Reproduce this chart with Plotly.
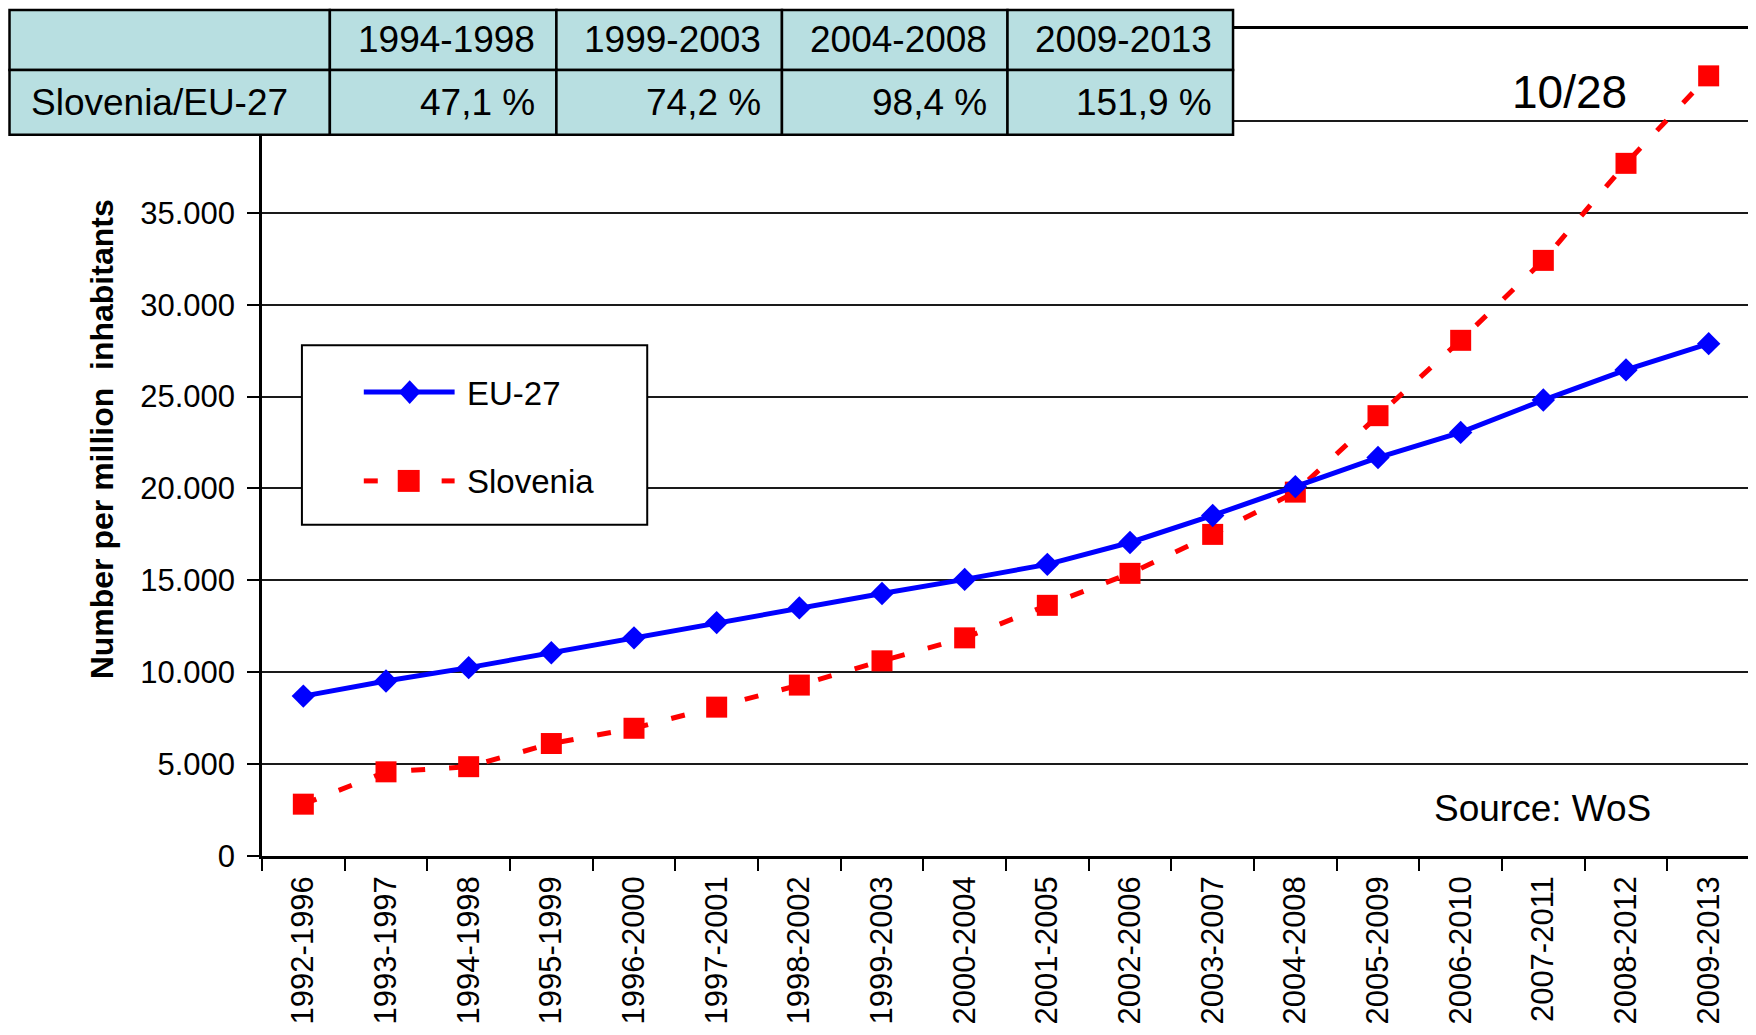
import plotly.graph_objects as go

# data
periods = [
    "1992-1996", "1993-1997", "1994-1998", "1995-1999", "1996-2000", "1997-2001",
    "1998-2002", "1999-2003", "2000-2004", "2001-2005", "2002-2006", "2003-2007",
    "2004-2008", "2005-2009", "2006-2010", "2007-2011", "2008-2012", "2009-2013",
]
eu27 = [8700, 9520, 10250, 11060, 11870, 12700, 13500, 14280, 15050, 15870,
        17060, 18530, 20100, 21680, 23050, 24810, 26450, 27880]
slovenia = [2820, 4580, 4860, 6120, 6950, 8100, 9300, 10620, 11870, 13640,
            15380, 17500, 19800, 23960, 28060, 32410, 37690, 42450]

y_tick_vals = [0, 5000, 10000, 15000, 20000, 25000, 30000, 35000, 40000]
y_tick_text = ["0", "5.000", "10.000", "15.000", "20.000", "25.000", "30.000", "35.000", ""]

table_header = ["", "1994-1998", "1999-2003", "2004-2008", "2009-2013"]
table_row = ["Slovenia/EU-27", "47,1 %", "74,2 %", "98,4 %", "151,9 %"]

FONT = "Liberation Sans, Arial, sans-serif"
# the page body adds an 8px margin, so the figure is drawn 8px in from the corner;
# keep the page no taller than the window so no scrollbar appears
OFF = 8
W, H = 1756 - OFF, 1035 - 2 * OFF
# plot area in window pixels
L, R, T, B = 262, 1753, 29, 858


def px(x):
    return (x - L) / (R - L)


def py(y):
    return (B - y) / (B - T)


fig = go.Figure()
fig.add_trace(go.Scatter(
    x=periods, y=slovenia, name="Slovenia", mode="lines+markers",
    line=dict(color="#FF0000", width=5, dash="14px,24px"),
    marker=dict(symbol="square", size=21, color="#FF0000"),
    showlegend=False,
))
fig.add_trace(go.Scatter(
    x=periods, y=eu27, name="EU-27", mode="lines+markers",
    line=dict(color="#0000FF", width=5),
    marker=dict(symbol="diamond", size=18, color="#0000FF"),
    showlegend=False,
))

shapes = []
annotations = []

# table in the top left corner
col_edges = [9, 330, 557, 783, 1009, 1235]
row_edges = [10, 70, 135]
for r, row in enumerate([table_header, table_row]):
    y0, y1 = row_edges[r], row_edges[r + 1]
    for c, txt in enumerate(row):
        x0, x1 = col_edges[c], col_edges[c + 1]
        shapes.append(dict(
            type="rect", xref="paper", yref="paper", layer="above",
            x0=px(x0), x1=px(x1), y0=py(y1), y1=py(y0),
            fillcolor="#B8DFE1", line=dict(color="black", width=2.5),
        ))
        if not txt:
            continue
        if c == 0:
            ax, anchor = x0 + 20, "left"
        else:
            ax, anchor = x1 - 19, "right"
        annotations.append(dict(
            text=txt, xref="paper", yref="paper", x=px(ax), y=py((y0 + y1) / 2),
            xanchor=anchor, yanchor="middle", showarrow=False,
            font=dict(family=FONT, size=37, color="black"),
        ))

# legend box
shapes.append(dict(type="rect", xref="paper", yref="paper", layer="above",
                   x0=px(302), x1=px(648), y0=py(526), y1=py(346),
                   fillcolor="white", line=dict(color="black", width=2)))
shapes.append(dict(type="line", xref="paper", yref="paper", layer="above",
                   x0=px(364), x1=px(455), y0=py(393), y1=py(393),
                   line=dict(color="#0000FF", width=5)))
dx, dy, cx, cy = 11, 12, 410, 393
shapes.append(dict(type="path", xref="paper", yref="paper", layer="above",
                   path=f"M{px(cx - dx)},{py(cy)} L{px(cx)},{py(cy - dy)} "
                        f"L{px(cx + dx)},{py(cy)} L{px(cx)},{py(cy + dy)} Z",
                   fillcolor="#0000FF", line=dict(color="#0000FF", width=0)))
for a, b in [(364, 378), (442, 455)]:
    shapes.append(dict(type="line", xref="paper", yref="paper", layer="above",
                       x0=px(a), x1=px(b), y0=py(482), y1=py(482),
                       line=dict(color="#FF0000", width=5)))
shapes.append(dict(type="rect", xref="paper", yref="paper", layer="above",
                   x0=px(398), x1=px(420), y0=py(493), y1=py(471),
                   fillcolor="#FF0000", line=dict(color="#FF0000", width=0)))
for name, yy in [("EU-27", 393), ("Slovenia", 482)]:
    annotations.append(dict(
        text=name, xref="paper", yref="paper", x=px(465), y=py(yy + 1),
        xanchor="left", yanchor="middle", showarrow=False,
        font=dict(family=FONT, size=33, color="black"),
    ))

annotations.append(dict(
    text="Number per million&nbsp; inhabitants", xref="paper", yref="paper",
    x=px(102), y=py(440), textangle=-90, xanchor="center", yanchor="middle",
    showarrow=False, font=dict(family=FONT, size=32, color="black", weight="bold"),
))
annotations.append(dict(
    text="10/28", xref="paper", yref="paper", x=px(1572), y=py(92),
    xanchor="center", yanchor="middle", showarrow=False,
    font=dict(family=FONT, size=46, color="black"),
))
annotations.append(dict(
    text="Source: WoS", xref="paper", yref="paper", x=px(1545), y=py(810),
    xanchor="center", yanchor="middle", showarrow=False,
    font=dict(family=FONT, size=37, color="black"),
))

fig.update_layout(
    width=W, height=H,
    margin=dict(l=L - OFF, r=W - (R - OFF), t=T - OFF, b=H - (B - OFF), pad=0),
    paper_bgcolor="white", plot_bgcolor="white",
    shapes=shapes, annotations=annotations,
    showlegend=False,
    xaxis=dict(
        type="category", range=[-0.5, 17.5], tickson="boundaries",
        ticks="outside", ticklen=12, tickwidth=1.5, tickcolor="black",
        showline=True, linewidth=2.5, linecolor="black", mirror=True,
        showgrid=False, tickangle=-90, ticklabelstandoff=5,
        tickfont=dict(family=FONT, size=31, color="black"),
    ),
    yaxis=dict(
        range=[0, 45000], tickvals=y_tick_vals, ticktext=y_tick_text,
        ticks="outside", ticklen=12, tickwidth=1.5, tickcolor="black",
        showline=True, linewidth=2.5, linecolor="black", mirror=True,
        showgrid=True, gridcolor="#1a1a1a", gridwidth=1.5, zeroline=False,
        ticklabelstandoff=6,
        tickfont=dict(family=FONT, size=31, color="black"),
    ),
)

fig.write_html("out.html")
